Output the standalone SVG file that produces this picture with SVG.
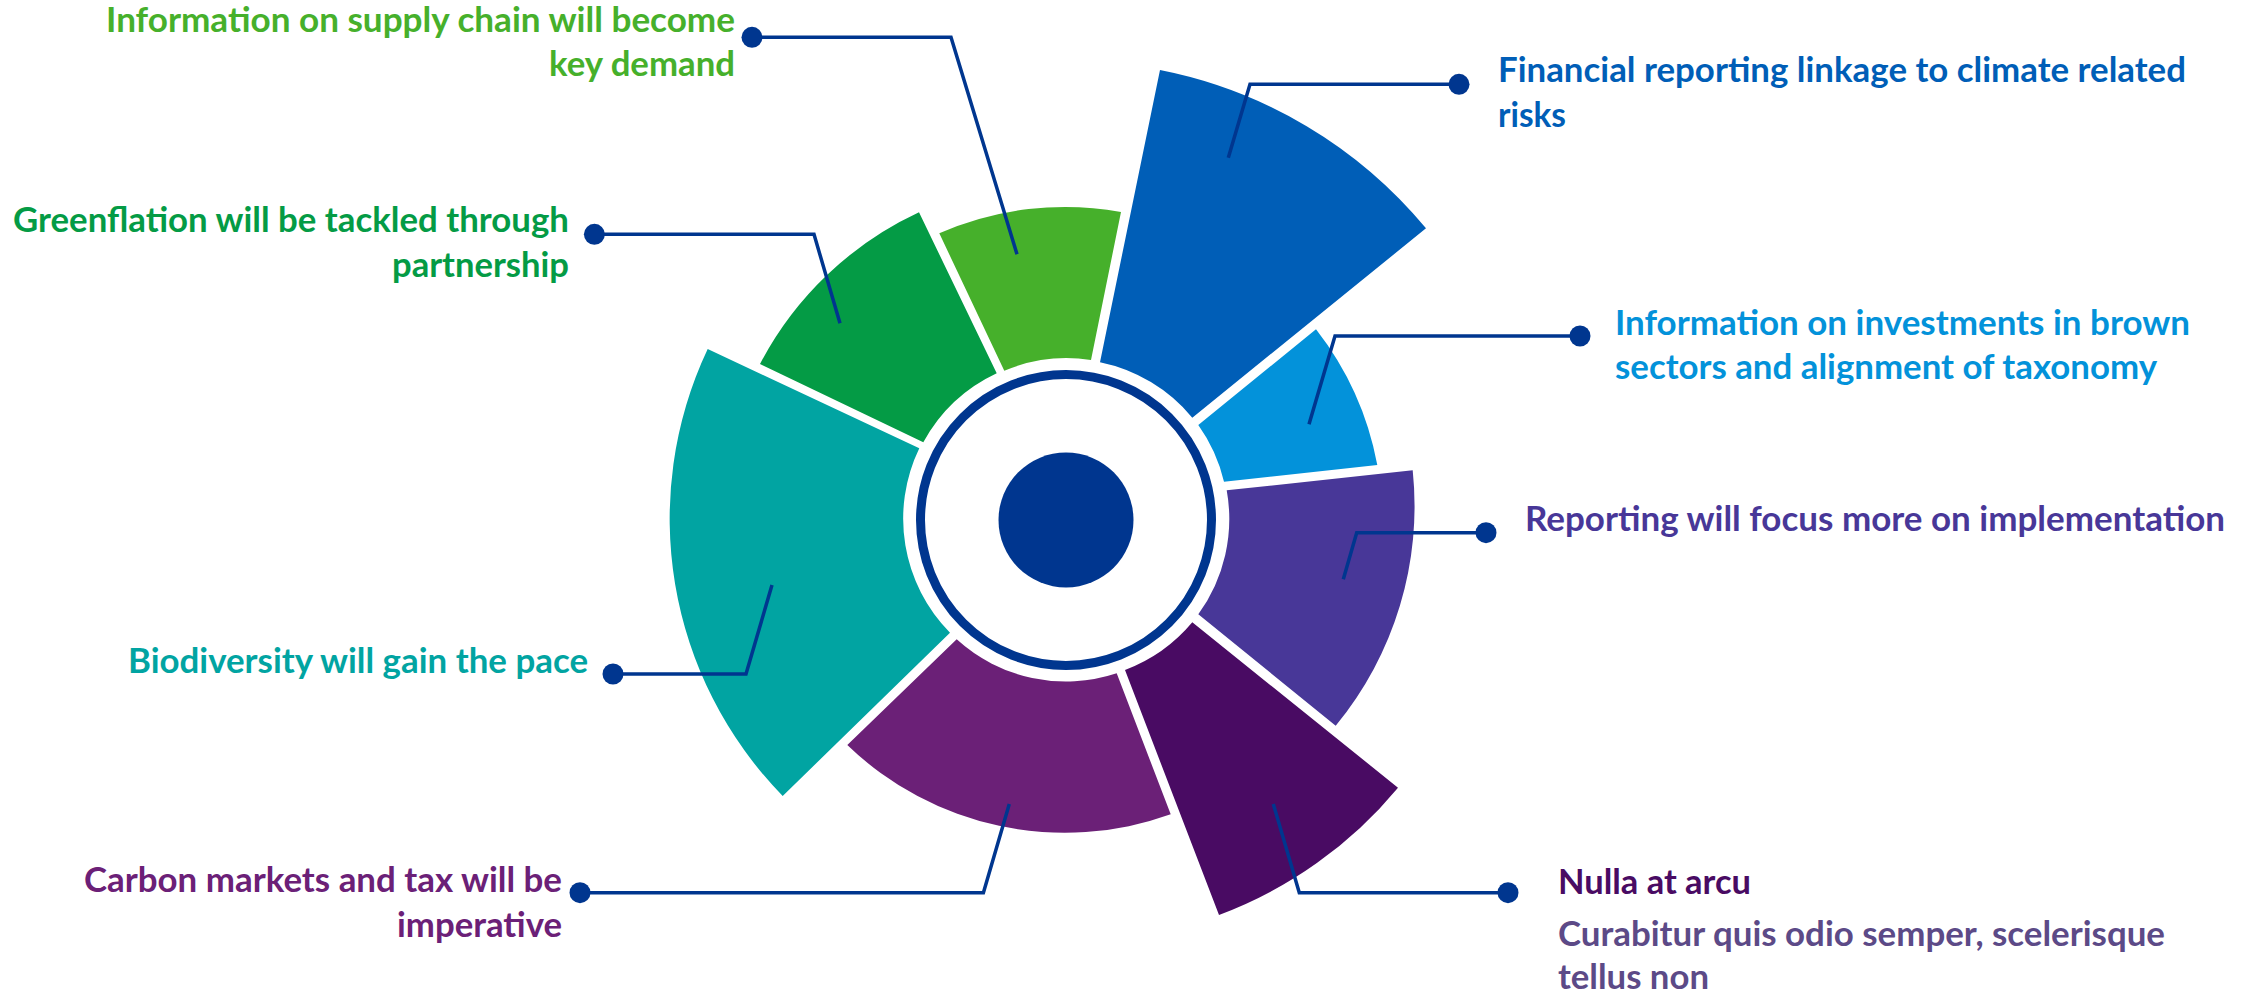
<svg xmlns="http://www.w3.org/2000/svg" width="2254" height="994" viewBox="0 0 2254 994">
  <style>
    .lbl { font-family: Lato, "Open Sans", "Liberation Sans", sans-serif; font-weight: 700; font-size: 34px; }
    .end { text-anchor: end; }
    .conn { fill: none; stroke: #00368F; stroke-width: 3.5; stroke-linejoin: miter; marker-start: url(#dot); }
  </style>
  <defs>
    <marker id="dot" markerUnits="userSpaceOnUse" viewBox="0 0 24 24" markerWidth="24" markerHeight="24" refX="12" refY="12" orient="0">
      <circle cx="12" cy="12" r="10.5" fill="#00368F"/>
    </marker>
  </defs>
  <rect width="2254" height="994" fill="#FFFFFF"/>

  <!-- rose segments with their labels -->
  <g id="supply-chain">
    <path fill="#46B02B" d="M 939.3 233.3 A 313 313 0 0 1 1121 212 L 1091 360 A 162 162 0 0 0 1004.3 370.7 Z"/>
    <text class="lbl end" fill="#46B02B"><tspan x="735" y="32" textLength="629" lengthAdjust="spacingAndGlyphs">Information on supply chain will become</tspan><tspan x="735" y="76" textLength="186" lengthAdjust="spacingAndGlyphs">key demand</tspan></text>
  </g>
  <g id="financial-reporting">
    <path fill="#005EB7" d="M 1160 70 A 461 461 0 0 1 1426 228.3 L 1192.3 417.7 A 162 162 0 0 0 1100 362.3 Z"/>
    <text class="lbl" fill="#005EB7"><tspan x="1498" y="82" textLength="688" lengthAdjust="spacingAndGlyphs">Financial reporting linkage to climate related</tspan><tspan x="1498" y="127" textLength="68" lengthAdjust="spacingAndGlyphs">risks</tspan></text>
  </g>
  <g id="brown-sectors">
    <path fill="#0392DA" d="M 1316 329.3 A 315 315 0 0 1 1377.3 465 L 1224 481.7 A 162 162 0 0 0 1198.3 425 Z"/>
    <text class="lbl" fill="#0392DA"><tspan x="1615" y="335" textLength="575" lengthAdjust="spacingAndGlyphs">Information on investments in brown</tspan><tspan x="1615" y="379" textLength="542" lengthAdjust="spacingAndGlyphs">sectors and alignment of taxonomy</tspan></text>
  </g>
  <g id="implementation">
    <path fill="#483798" d="M 1412.7 470.3 A 345 345 0 0 1 1335.7 725.7 L 1198.3 614.3 A 162 162 0 0 0 1226.7 490.3 Z"/>
    <text class="lbl" fill="#483798" x="1525" y="531" textLength="700" lengthAdjust="spacingAndGlyphs">Reporting will focus more on implementation</text>
  </g>
  <g id="nulla-at-arcu">
    <path fill="#490B63" d="M 1192.3 622.3 L 1398 787.7 A 425 425 0 0 1 1219 915 L 1125 670 A 162 162 0 0 0 1192.3 622.3 Z"/>
    <text class="lbl" fill="#490B63" x="1558" y="894" textLength="193" lengthAdjust="spacingAndGlyphs">Nulla at arcu</text>
    <text class="lbl" fill="#5C4A87"><tspan x="1558" y="946" textLength="607" lengthAdjust="spacingAndGlyphs">Curabitur quis odio semper, scelerisque</tspan><tspan x="1558" y="989" textLength="151" lengthAdjust="spacingAndGlyphs">tellus non</tspan></text>
  </g>
  <g id="carbon-markets">
    <path fill="#6B2077" d="M 1116.7 673.3 L 1170.7 814.3 A 313 313 0 0 1 847.3 745 L 956.7 639.3 A 162 162 0 0 0 1116.7 673.3 Z"/>
    <text class="lbl end" fill="#6B2077"><tspan x="562" y="892" textLength="478" lengthAdjust="spacingAndGlyphs">Carbon markets and tax will be</tspan><tspan x="562" y="937" textLength="165" lengthAdjust="spacingAndGlyphs">imperative</tspan></text>
  </g>
  <g id="biodiversity">
    <path fill="#01A4A2" d="M 782.7 796 A 397 397 0 0 1 707.7 349 L 919.3 448.3 A 162 162 0 0 0 950 632.7 Z"/>
    <text class="lbl end" fill="#01A4A2" x="588" y="673" textLength="460" lengthAdjust="spacingAndGlyphs">Biodiversity will gain the pace</text>
  </g>
  <g id="greenflation">
    <path fill="#049B45" d="M 760 364 A 342 342 0 0 1 919 212.3 L 996.7 373.3 A 162 162 0 0 0 923.3 442.3 Z"/>
    <text class="lbl end" fill="#049B45"><tspan x="569" y="232" textLength="556" lengthAdjust="spacingAndGlyphs">Greenflation will be tackled through</tspan><tspan x="569" y="277" textLength="177" lengthAdjust="spacingAndGlyphs">partnership</tspan></text>
  </g>

  <!-- central hub -->
  <g id="hub">
    <circle cx="1066" cy="520" r="145.5" fill="#FFFFFF" stroke="#00368F" stroke-width="9"/>
    <circle cx="1066" cy="520" r="67.5" fill="#00368F"/>
  </g>

  <!-- leader lines from each label to its segment -->
  <g id="connectors">
    <polyline class="conn" points="752,37.3 951,37.3 1017,254.3"/>
    <polyline class="conn" points="594.4,234.3 814,234.3 840,323.3"/>
    <polyline class="conn" points="613,674 746,674 772,585"/>
    <polyline class="conn" points="580,892.7 983.4,892.7 1009.3,804"/>
    <polyline class="conn" points="1459,84.3 1250,84.3 1228.3,157.7"/>
    <polyline class="conn" points="1580,336 1335,336 1309,424.3"/>
    <polyline class="conn" points="1486,532.7 1356.7,532.7 1343.3,579.3"/>
    <polyline class="conn" points="1508,892.7 1299.3,892.7 1273.3,804"/>
  </g>
</svg>
